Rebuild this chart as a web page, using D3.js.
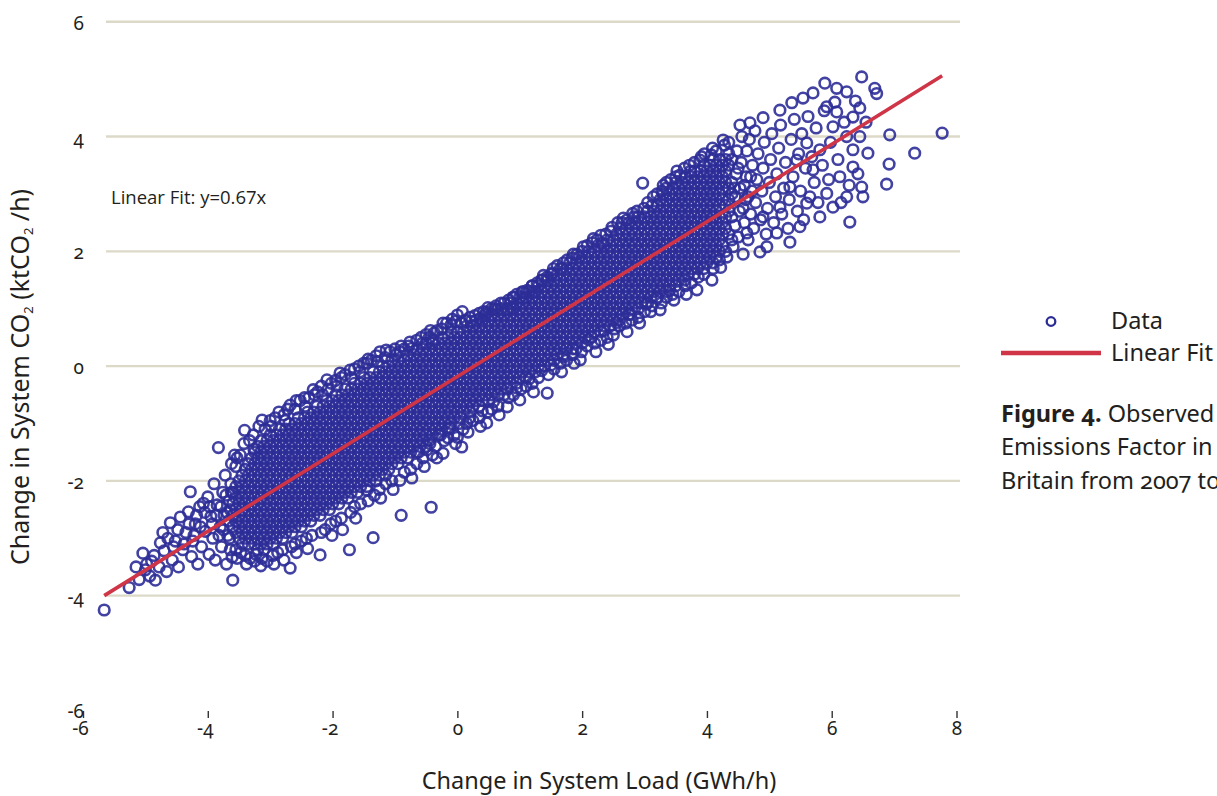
<!DOCTYPE html>
<html><head><meta charset="utf-8">
<script src="https://cdn.jsdelivr.net/npm/d3@7"></script>
<style>
html,body{margin:0;padding:0;background:#fff;overflow:hidden}
text{fill:#231f20}
</style>
</head><body>
<svg id="chart" width="1217" height="796"></svg>
<script>
// ---------- data ----------
const xTicks = [-6,-4,-2,0,2,4,6,8];
const yTicks = [-6,-4,-2,0,2,4,6];
const gridValues = [-4,-2,0,2,4,6];
const fitX = [-5.66, 7.77];
const fitY = [-4.0, 5.06];
const fitLabel = "Linear Fit: y=0.67x";
const seriesNames = ["Data", "Linear Fit"];

// dense core of the cloud: [load change, co2 change, co2 change, ...] per column
const coreColumns = [
[-3.60,-2.8,-2.6,-2.4,-2.2],
[-3.55,-2.9,-2.7,-2.5,-2.3,-2.1],
[-3.50,-3.0,-2.8,-2.6,-2.4,-2.2,-2.0],
[-3.45,-3.1,-2.9,-2.7,-2.5,-2.3,-2.1,-1.9],
[-3.40,-3.0,-2.8,-2.6,-2.4,-2.2,-2.0,-1.8],
[-3.35,-3.1,-2.9,-2.7,-2.5,-2.3,-2.1,-1.9,-1.7],
[-3.30,-3.0,-2.8,-2.6,-2.4,-2.2,-2.0,-1.8,-1.6],
[-3.25,-3.1,-2.9,-2.7,-2.5,-2.3,-2.1,-1.9,-1.7,-1.5],
[-3.20,-3.2,-3.0,-2.8,-2.6,-2.4,-2.2,-2.0,-1.8,-1.6,-1.4],
[-3.15,-3.1,-2.9,-2.7,-2.5,-2.3,-2.1,-1.9,-1.7,-1.5,-1.3],
[-3.10,-3.2,-3.0,-2.8,-2.6,-2.4,-2.2,-2.0,-1.8,-1.6,-1.4],
[-3.05,-3.1,-2.9,-2.7,-2.5,-2.3,-2.1,-1.9,-1.7,-1.5,-1.3],
[-3.00,-3.0,-2.8,-2.6,-2.4,-2.2,-2.0,-1.8,-1.6,-1.4,-1.2],
[-2.95,-3.1,-2.9,-2.7,-2.5,-2.3,-2.1,-1.9,-1.7,-1.5,-1.3],
[-2.90,-3.0,-2.8,-2.6,-2.4,-2.2,-2.0,-1.8,-1.6,-1.4,-1.2],
[-2.85,-2.9,-2.7,-2.5,-2.3,-2.1,-1.9,-1.7,-1.5,-1.3,-1.1],
[-2.80,-3.0,-2.8,-2.6,-2.4,-2.2,-2.0,-1.8,-1.6,-1.4,-1.2],
[-2.75,-2.9,-2.7,-2.5,-2.3,-2.1,-1.9,-1.7,-1.5,-1.3,-1.1],
[-2.70,-2.8,-2.6,-2.4,-2.2,-2.0,-1.8,-1.6,-1.4,-1.2,-1.0],
[-2.65,-2.9,-2.7,-2.5,-2.3,-2.1,-1.9,-1.7,-1.5,-1.3,-1.1],
[-2.60,-2.8,-2.6,-2.4,-2.2,-2.0,-1.8,-1.6,-1.4,-1.2,-1.0],
[-2.55,-2.7,-2.5,-2.3,-2.1,-1.9,-1.7,-1.5,-1.3,-1.1,-0.9],
[-2.50,-2.8,-2.6,-2.4,-2.2,-2.0,-1.8,-1.6,-1.4,-1.2,-1.0],
[-2.45,-2.7,-2.5,-2.3,-2.1,-1.9,-1.7,-1.5,-1.3,-1.1,-0.9],
[-2.40,-2.6,-2.4,-2.2,-2.0,-1.8,-1.6,-1.4,-1.2,-1.0,-0.8],
[-2.35,-2.7,-2.5,-2.3,-2.1,-1.9,-1.7,-1.5,-1.3,-1.1,-0.9],
[-2.30,-2.6,-2.4,-2.2,-2.0,-1.8,-1.6,-1.4,-1.2,-1.0,-0.8],
[-2.25,-2.5,-2.3,-2.1,-1.9,-1.7,-1.5,-1.3,-1.1,-0.9,-0.7],
[-2.20,-2.6,-2.4,-2.2,-2.0,-1.8,-1.6,-1.4,-1.2,-1.0,-0.8],
[-2.15,-2.5,-2.3,-2.1,-1.9,-1.7,-1.5,-1.3,-1.1,-0.9,-0.7],
[-2.10,-2.4,-2.2,-2.0,-1.8,-1.6,-1.4,-1.2,-1.0,-0.8,-0.6],
[-2.05,-2.5,-2.3,-2.1,-1.9,-1.7,-1.5,-1.3,-1.1,-0.9,-0.7],
[-2.00,-2.4,-2.2,-2.0,-1.8,-1.6,-1.4,-1.2,-1.0,-0.8,-0.6],
[-1.95,-2.3,-2.1,-1.9,-1.7,-1.5,-1.3,-1.1,-0.9,-0.7,-0.5],
[-1.90,-2.4,-2.2,-2.0,-1.8,-1.6,-1.4,-1.2,-1.0,-0.8,-0.6],
[-1.85,-2.3,-2.1,-1.9,-1.7,-1.5,-1.3,-1.1,-0.9,-0.7,-0.5],
[-1.80,-2.2,-2.0,-1.8,-1.6,-1.4,-1.2,-1.0,-0.8,-0.6,-0.4],
[-1.75,-2.3,-2.1,-1.9,-1.7,-1.5,-1.3,-1.1,-0.9,-0.7,-0.5],
[-1.70,-2.2,-2.0,-1.8,-1.6,-1.4,-1.2,-1.0,-0.8,-0.6,-0.4],
[-1.65,-2.1,-1.9,-1.7,-1.5,-1.3,-1.1,-0.9,-0.7,-0.5,-0.3],
[-1.60,-2.2,-2.0,-1.8,-1.6,-1.4,-1.2,-1.0,-0.8,-0.6,-0.4],
[-1.55,-2.1,-1.9,-1.7,-1.5,-1.3,-1.1,-0.9,-0.7,-0.5,-0.3],
[-1.50,-2.0,-1.8,-1.6,-1.4,-1.2,-1.0,-0.8,-0.6,-0.4,-0.2],
[-1.45,-2.1,-1.9,-1.7,-1.5,-1.3,-1.1,-0.9,-0.7,-0.5,-0.3],
[-1.40,-2.0,-1.8,-1.6,-1.4,-1.2,-1.0,-0.8,-0.6,-0.4,-0.2],
[-1.35,-1.9,-1.7,-1.5,-1.3,-1.1,-0.9,-0.7,-0.5,-0.3,-0.1],
[-1.30,-2.0,-1.8,-1.6,-1.4,-1.2,-1.0,-0.8,-0.6,-0.4,-0.2],
[-1.25,-1.9,-1.7,-1.5,-1.3,-1.1,-0.9,-0.7,-0.5,-0.3,-0.1],
[-1.20,-1.8,-1.6,-1.4,-1.2,-1.0,-0.8,-0.6,-0.4,-0.2,0.0],
[-1.15,-1.9,-1.7,-1.5,-1.3,-1.1,-0.9,-0.7,-0.5,-0.3,-0.1],
[-1.10,-1.8,-1.6,-1.4,-1.2,-1.0,-0.8,-0.6,-0.4,-0.2,0.0],
[-1.05,-1.7,-1.5,-1.3,-1.1,-0.9,-0.7,-0.5,-0.3,-0.1,0.1],
[-1.00,-1.6,-1.4,-1.2,-1.0,-0.8,-0.6,-0.4,-0.2,0.0],
[-0.95,-1.7,-1.5,-1.3,-1.1,-0.9,-0.7,-0.5,-0.3,-0.1,0.1],
[-0.90,-1.6,-1.4,-1.2,-1.0,-0.8,-0.6,-0.4,-0.2,0.0],
[-0.85,-1.5,-1.3,-1.1,-0.9,-0.7,-0.5,-0.3,-0.1,0.1],
[-0.80,-1.6,-1.4,-1.2,-1.0,-0.8,-0.6,-0.4,-0.2,0.0,0.2],
[-0.75,-1.5,-1.3,-1.1,-0.9,-0.7,-0.5,-0.3,-0.1,0.1],
[-0.70,-1.4,-1.2,-1.0,-0.8,-0.6,-0.4,-0.2,0.0,0.2],
[-0.65,-1.5,-1.3,-1.1,-0.9,-0.7,-0.5,-0.3,-0.1,0.1,0.3],
[-0.60,-1.4,-1.2,-1.0,-0.8,-0.6,-0.4,-0.2,0.0,0.2],
[-0.55,-1.3,-1.1,-0.9,-0.7,-0.5,-0.3,-0.1,0.1,0.3],
[-0.50,-1.4,-1.2,-1.0,-0.8,-0.6,-0.4,-0.2,0.0,0.2,0.4],
[-0.45,-1.3,-1.1,-0.9,-0.7,-0.5,-0.3,-0.1,0.1,0.3],
[-0.40,-1.2,-1.0,-0.8,-0.6,-0.4,-0.2,0.0,0.2,0.4],
[-0.35,-1.1,-0.9,-0.7,-0.5,-0.3,-0.1,0.1,0.3],
[-0.30,-1.2,-1.0,-0.8,-0.6,-0.4,-0.2,0.0,0.2,0.4],
[-0.25,-1.1,-0.9,-0.7,-0.5,-0.3,-0.1,0.1,0.3,0.5],
[-0.20,-1.0,-0.8,-0.6,-0.4,-0.2,0.0,0.2,0.4],
[-0.15,-1.1,-0.9,-0.7,-0.5,-0.3,-0.1,0.1,0.3,0.5],
[-0.10,-1.0,-0.8,-0.6,-0.4,-0.2,0.0,0.2,0.4,0.6],
[-0.05,-0.9,-0.7,-0.5,-0.3,-0.1,0.1,0.3,0.5],
[0.00,-0.8,-0.6,-0.4,-0.2,0.0,0.2,0.4,0.6],
[0.05,-0.9,-0.7,-0.5,-0.3,-0.1,0.1,0.3,0.5],
[0.10,-0.8,-0.6,-0.4,-0.2,0.0,0.2,0.4,0.6],
[0.15,-0.7,-0.5,-0.3,-0.1,0.1,0.3,0.5,0.7],
[0.20,-0.8,-0.6,-0.4,-0.2,0.0,0.2,0.4,0.6],
[0.25,-0.7,-0.5,-0.3,-0.1,0.1,0.3,0.5,0.7],
[0.30,-0.6,-0.4,-0.2,0.0,0.2,0.4,0.6,0.8],
[0.35,-0.7,-0.5,-0.3,-0.1,0.1,0.3,0.5,0.7],
[0.40,-0.6,-0.4,-0.2,0.0,0.2,0.4,0.6,0.8],
[0.45,-0.5,-0.3,-0.1,0.1,0.3,0.5,0.7,0.9],
[0.50,-0.6,-0.4,-0.2,0.0,0.2,0.4,0.6,0.8],
[0.55,-0.5,-0.3,-0.1,0.1,0.3,0.5,0.7,0.9],
[0.60,-0.4,-0.2,0.0,0.2,0.4,0.6,0.8,1.0],
[0.65,-0.5,-0.3,-0.1,0.1,0.3,0.5,0.7,0.9],
[0.70,-0.4,-0.2,0.0,0.2,0.4,0.6,0.8,1.0],
[0.75,-0.3,-0.1,0.1,0.3,0.5,0.7,0.9,1.1],
[0.80,-0.4,-0.2,0.0,0.2,0.4,0.6,0.8,1.0],
[0.85,-0.3,-0.1,0.1,0.3,0.5,0.7,0.9,1.1],
[0.90,-0.2,0.0,0.2,0.4,0.6,0.8,1.0,1.2],
[0.95,-0.3,-0.1,0.1,0.3,0.5,0.7,0.9,1.1],
[1.00,-0.2,0.0,0.2,0.4,0.6,0.8,1.0,1.2],
[1.05,-0.1,0.1,0.3,0.5,0.7,0.9,1.1,1.3],
[1.10,-0.2,0.0,0.2,0.4,0.6,0.8,1.0,1.2],
[1.15,-0.1,0.1,0.3,0.5,0.7,0.9,1.1,1.3],
[1.20,0.0,0.2,0.4,0.6,0.8,1.0,1.2,1.4],
[1.25,-0.1,0.1,0.3,0.5,0.7,0.9,1.1,1.3],
[1.30,0.0,0.2,0.4,0.6,0.8,1.0,1.2,1.4],
[1.35,0.1,0.3,0.5,0.7,0.9,1.1,1.3,1.5],
[1.40,0.0,0.2,0.4,0.6,0.8,1.0,1.2,1.4],
[1.45,0.1,0.3,0.5,0.7,0.9,1.1,1.3,1.5],
[1.50,0.2,0.4,0.6,0.8,1.0,1.2,1.4,1.6],
[1.55,0.1,0.3,0.5,0.7,0.9,1.1,1.3,1.5],
[1.60,0.2,0.4,0.6,0.8,1.0,1.2,1.4,1.6],
[1.65,0.3,0.5,0.7,0.9,1.1,1.3,1.5,1.7],
[1.70,0.2,0.4,0.6,0.8,1.0,1.2,1.4,1.6],
[1.75,0.3,0.5,0.7,0.9,1.1,1.3,1.5,1.7],
[1.80,0.4,0.6,0.8,1.0,1.2,1.4,1.6,1.8],
[1.85,0.3,0.5,0.7,0.9,1.1,1.3,1.5,1.7],
[1.90,0.4,0.6,0.8,1.0,1.2,1.4,1.6,1.8],
[1.95,0.5,0.7,0.9,1.1,1.3,1.5,1.7,1.9],
[2.00,0.4,0.6,0.8,1.0,1.2,1.4,1.6,1.8],
[2.05,0.5,0.7,0.9,1.1,1.3,1.5,1.7,1.9],
[2.10,0.6,0.8,1.0,1.2,1.4,1.6,1.8,2.0],
[2.15,0.5,0.7,0.9,1.1,1.3,1.5,1.7,1.9],
[2.20,0.6,0.8,1.0,1.2,1.4,1.6,1.8,2.0],
[2.25,0.7,0.9,1.1,1.3,1.5,1.7,1.9,2.1],
[2.30,0.6,0.8,1.0,1.2,1.4,1.6,1.8,2.0],
[2.35,0.7,0.9,1.1,1.3,1.5,1.7,1.9,2.1],
[2.40,0.8,1.0,1.2,1.4,1.6,1.8,2.0,2.2],
[2.45,0.7,0.9,1.1,1.3,1.5,1.7,1.9,2.1],
[2.50,0.8,1.0,1.2,1.4,1.6,1.8,2.0,2.2],
[2.55,0.9,1.1,1.3,1.5,1.7,1.9,2.1,2.3],
[2.60,0.8,1.0,1.2,1.4,1.6,1.8,2.0,2.2,2.4],
[2.65,0.9,1.1,1.3,1.5,1.7,1.9,2.1,2.3],
[2.70,1.0,1.2,1.4,1.6,1.8,2.0,2.2,2.4],
[2.75,0.9,1.1,1.3,1.5,1.7,1.9,2.1,2.3,2.5],
[2.80,1.0,1.2,1.4,1.6,1.8,2.0,2.2,2.4],
[2.85,1.1,1.3,1.5,1.7,1.9,2.1,2.3,2.5],
[2.90,1.0,1.2,1.4,1.6,1.8,2.0,2.2,2.4,2.6],
[2.95,1.1,1.3,1.5,1.7,1.9,2.1,2.3,2.5],
[3.00,1.2,1.4,1.6,1.8,2.0,2.2,2.4,2.6],
[3.05,1.1,1.3,1.5,1.7,1.9,2.1,2.3,2.5,2.7],
[3.10,1.2,1.4,1.6,1.8,2.0,2.2,2.4,2.6],
[3.15,1.3,1.5,1.7,1.9,2.1,2.3,2.5,2.7],
[3.20,1.2,1.4,1.6,1.8,2.0,2.2,2.4,2.6,2.8],
[3.25,1.3,1.5,1.7,1.9,2.1,2.3,2.5,2.7,2.9],
[3.30,1.4,1.6,1.8,2.0,2.2,2.4,2.6,2.8,3.0],
[3.35,1.3,1.5,1.7,1.9,2.1,2.3,2.5,2.7,2.9,3.1],
[3.40,1.4,1.6,1.8,2.0,2.2,2.4,2.6,2.8,3.0],
[3.45,1.5,1.7,1.9,2.1,2.3,2.5,2.7,2.9,3.1],
[3.50,1.4,1.6,1.8,2.0,2.2,2.4,2.6,2.8,3.0,3.2],
[3.55,1.5,1.7,1.9,2.1,2.3,2.5,2.7,2.9,3.1],
[3.60,1.6,1.8,2.0,2.2,2.4,2.6,2.8,3.0,3.2],
[3.65,1.5,1.7,1.9,2.1,2.3,2.5,2.7,2.9,3.1,3.3],
[3.70,1.6,1.8,2.0,2.2,2.4,2.6,2.8,3.0,3.2],
[3.75,1.7,1.9,2.1,2.3,2.5,2.7,2.9,3.1,3.3],
[3.80,1.6,1.8,2.0,2.2,2.4,2.6,2.8,3.0,3.2,3.4],
[3.85,1.7,1.9,2.1,2.3,2.5,2.7,2.9,3.1,3.3],
[3.90,1.8,2.0,2.2,2.4,2.6,2.8,3.0,3.2,3.4],
[3.95,1.7,1.9,2.1,2.3,2.5,2.7,2.9,3.1,3.3,3.5],
[4.00,1.8,2.0,2.2,2.4,2.6,2.8,3.0,3.2,3.4],
[4.05,1.9,2.1,2.3,2.5,2.7,2.9,3.1,3.3,3.5],
[4.10,1.8,2.0,2.2,2.4,2.6,2.8,3.0,3.2,3.4,3.6],
[4.15,1.9,2.1,2.3,2.5,2.7,2.9,3.1,3.3,3.5],
[4.20,2.0,2.2,2.4,2.6,2.8,3.0,3.2,3.4,3.6],
[4.25,2.1,2.3,2.5,2.9,3.1,3.3,3.5],
[4.30,2.0,2.4,2.6,2.8,3.2,3.4,3.6],
[4.35,2.3,2.7,2.9,3.1,3.5,3.7],
[4.40,2.2,2.6,3.0,3.2,3.6]
];

// sparse lower-left tail
const tailLeft = [
[-5.66,-4.25],[-5.26,-3.86],[-5.1,-3.72],[-5.04,-3.26],[-4.98,-3.45],[-4.93,-3.66],[-4.86,-3.3],[-4.84,-3.73],[-4.78,-3.5],[-4.76,-3.08],
[-4.7,-3.22],[-4.66,-3.58],[-4.6,-2.73],[-4.57,-3.38],[-4.52,-3.05],[-4.47,-3.5],[-4.44,-2.63],[-4.4,-3.2],[-4.35,-2.9],[-4.31,-2.54],
[-4.28,-2.19],[-4.26,-3.32],[-4.24,-3.05],[-4.2,-2.75],[-4.16,-3.45],[-4.13,-2.45],[-4.1,-3.15],[-4.07,-2.39],[-4.04,-2.88],[-4.0,-2.28],
[-3.98,-3.28],[-3.95,-2.62],[-3.92,-3.0],[-3.9,-2.05],[-3.88,-3.38],[-3.85,-2.42],[-3.83,-1.42],[-3.8,-2.8],[-3.78,-3.15],[-3.76,-2.2],
[-3.74,-2.6],[-3.72,-1.9],[-3.7,-3.45],[-3.68,-2.95],[-3.66,-2.35],[-3.64,-3.2],[-3.62,-1.7],[-3.61,-3.33],[-3.6,-3.73],[-3.63,-2.05],
[-3.67,-2.7],[-3.57,-1.55],[-4.05,-2.55],[-3.97,-2.45],[-3.93,-2.75],[-3.86,-2.6],[-3.82,-2.95],[-3.79,-2.45],[-3.75,-2.85],[-3.71,-2.25],
[-3.69,-2.55],[-3.65,-3.0],[-3.64,-2.5],[-3.62,-2.2],[-4.12,-2.8],[-4.18,-2.6],[-4.22,-2.95],[-4.3,-2.75],[-4.38,-3.1],[-4.48,-2.85],
[-4.55,-3.15],[-4.64,-3.0],[-4.72,-2.9],[-4.9,-3.4],[-5.0,-3.55],[-5.15,-3.5]
];

// scattered points above the dense band
const edgeUpper = [
[-3.55,-1.75],[-3.53,-1.6],[-3.48,-1.55],[-3.42,-1.35],[-3.41,-1.12],[-3.33,-1.3],[-3.27,-1.2],[-3.26,-1.45],[-3.18,-1.05],[-3.13,-0.94],
[-3.08,-1.1],[-3.0,-0.95],[-2.98,-1.05],[-2.92,-0.9],[-2.86,-0.8],[-2.78,-0.85],[-2.76,-0.95],[-2.72,-0.75],[-2.68,-0.68],[-2.6,-0.75],
[-2.58,-0.6],[-2.52,-0.6],[-2.45,-0.55],[-2.44,-0.7],[-2.38,-0.55],[-2.31,-0.41],[-2.29,-0.5],[-2.24,-0.45],[-2.18,-0.35],[-2.16,-0.5],
[-2.09,-0.24],[-2.07,-0.4],[-2.02,-0.3],[-1.95,-0.25],[-1.93,-0.35],[-1.88,-0.12],[-1.86,-0.2],[-1.8,-0.15],[-1.72,-0.07],[-1.7,-0.2],
[-1.65,-0.05],[-1.58,0.0],[-1.56,-0.1],[-1.5,0.05],[-1.45,0.05],[-1.43,0.12],[-1.38,0.1],[-1.3,0.18],[-1.28,0.08],[-1.24,0.25],
[-1.16,0.15],[-1.14,0.28],[-1.08,0.25],[-1.0,0.3],[-0.98,0.2],[-0.92,0.25],[-0.9,0.35],[-0.85,0.3],[-0.78,0.35],[-0.76,0.42],
[-0.73,0.31],[-0.65,0.45],[-0.58,0.5],[-0.56,0.4],[-0.5,0.55],[-0.45,0.5],[-0.43,0.62],[-0.39,0.45],[-0.37,0.58],[-0.32,0.62],
[-0.25,0.65],[-0.23,0.75],[-0.17,0.75],[-0.1,0.72],[-0.08,0.82],[-0.03,0.78],[0.0,0.89],[0.06,0.75],[0.08,0.95],[0.13,0.8],
[0.2,0.85],[0.22,0.78],[0.28,0.88],[0.35,0.92],[0.37,0.83],[0.42,0.95],[0.47,0.94],[0.49,1.02],[0.55,1.0],[0.62,1.05],
[0.64,0.98],[0.7,1.1],[0.8,0.98],[0.82,1.15],[0.87,1.01],[0.89,1.2],[0.95,1.25],[1.03,1.28],[1.05,1.18],[1.12,1.32],
[1.2,1.4],[1.22,1.3],[1.28,1.45],[1.36,1.5],[1.38,1.58],[1.44,1.55],[1.52,1.62],[1.54,1.7],[1.6,1.75],[1.68,1.7],
[1.7,1.8],[1.76,1.85],[1.84,1.88],[1.86,1.95],[1.92,1.95],[2.0,2.0],[2.02,2.08],[2.08,2.1],[2.16,2.15],[2.18,2.22],
[2.24,2.2],[2.3,2.28],[2.32,2.14],[2.38,2.3],[2.46,2.35],[2.48,2.42],[2.57,2.5],[2.64,2.5],[2.66,2.58],[2.72,2.55],
[2.81,2.66],[2.83,2.6],[2.88,2.7],[2.97,3.19],[2.99,2.75],[3.05,2.85],[3.12,2.8],[3.14,2.95],[3.2,3.0],[3.28,3.05],
[3.3,3.15],[3.35,3.2],[3.42,3.25],[3.5,3.3],[3.52,3.4],[3.57,3.33],[3.64,3.45],[3.72,3.5],[3.74,3.4],[3.8,3.55],
[3.89,3.59],[3.91,3.65],[3.96,3.7],[4.07,3.68],[4.09,3.8],[4.15,3.75],[4.26,3.94],[4.28,3.85],[4.35,3.9]
];

// scattered points below the dense band
const edgeLower = [
[-3.55,-3.2],[-3.53,-3.35],[-3.47,-3.25],[-3.4,-3.3],[-3.38,-3.45],[-3.32,-3.35],[-3.25,-3.4],[-3.23,-3.28],[-3.15,-3.48],[-3.13,-3.35],
[-3.05,-3.4],[-2.96,-3.3],[-2.94,-3.45],[-2.88,-3.25],[-2.8,-3.2],[-2.78,-3.38],[-2.68,-3.52],[-2.66,-3.15],[-2.6,-3.1],[-2.58,-3.25],
[-2.5,-3.05],[-2.42,-3.0],[-2.4,-3.18],[-2.33,-2.95],[-2.2,-3.29],[-2.18,-2.9],[-2.12,-2.85],[-2.03,-2.75],[-2.01,-2.95],[-1.95,-2.7],
[-1.86,-2.65],[-1.84,-2.85],[-1.73,-3.2],[-1.71,-2.55],[-1.65,-2.45],[-1.63,-2.65],[-1.55,-2.4],[-1.45,-2.16],[-1.43,-2.35],[-1.35,-2.99],
[-1.33,-2.25],[-1.25,-2.15],[-1.23,-2.3],[-1.15,-2.05],[-1.05,-2.0],[-1.03,-2.15],[-0.92,-1.99],[-0.9,-2.6],[-0.85,-1.85],[-0.75,-1.8],
[-0.73,-1.95],[-0.65,-1.7],[-0.55,-1.6],[-0.53,-1.75],[-0.49,-1.46],[-0.42,-2.46],[-0.4,-1.55],[-0.35,-1.4],[-0.33,-1.6],[-0.23,-1.52],
[-0.21,-1.3],[-0.15,-1.25],[-0.05,-1.2],[-0.03,-1.35],[0.0,-1.24],[0.07,-1.41],[0.09,-1.1],[0.15,-1.0],[0.17,-1.15],[0.25,-0.95],
[0.35,-0.9],[0.37,-1.05],[0.47,-0.99],[0.49,-0.8],[0.55,-0.75],[0.65,-0.7],[0.67,-0.85],[0.8,-0.71],[0.82,-0.55],[0.9,-0.5],
[1.0,-0.59],[1.02,-0.4],[1.1,-0.35],[1.2,-0.3],[1.22,-0.45],[1.3,-0.2],[1.44,-0.47],[1.46,-0.15],[1.55,-0.05],[1.65,0.05],
[1.67,-0.1],[1.75,0.1],[1.85,0.2],[1.87,0.05],[1.97,0.11],[1.99,0.25],[2.08,0.35],[2.2,0.4],[2.22,0.25],[2.3,0.45],
[2.4,0.5],[2.42,0.38],[2.5,0.54],[2.52,0.65],[2.6,0.7],[2.7,0.75],[2.72,0.6],[2.8,0.8],[2.9,0.85],[2.92,0.75],
[3.0,0.95],[3.1,0.95],[3.12,1.05],[3.25,0.98],[3.27,1.1],[3.35,1.2],[3.45,1.25],[3.47,1.15],[3.55,1.3],[3.65,1.4],
[3.67,1.25],[3.75,1.45],[3.84,1.33],[3.86,1.55],[3.95,1.6],[4.08,1.5],[4.1,1.7],[4.2,1.85],[4.22,1.72],[4.32,1.9],
[-0.62,-1.5],[-0.44,-1.35],[-0.27,-1.2],[-0.12,-1.08],[0.03,-1.0],[0.2,-0.9],[0.4,-0.78],[0.58,-0.62],[0.75,-0.5],[0.95,-0.38],
[1.15,-0.22],[1.35,-0.08],[1.5,0.02],[1.7,0.16],[1.9,0.3],[2.1,0.46],[2.35,0.62],[2.55,0.76],[2.78,0.9],[3.02,1.08],
[3.2,1.18],[3.4,1.32]
];

// sparse upper-right tail
const tailRight = [
[4.69,4.24],[4.9,4.33],[5.17,4.46],[5.36,4.59],[5.54,4.67],[5.7,4.76],[5.89,4.93],[6.08,4.84],[6.24,4.78],[6.48,5.04],
[6.69,4.84],[6.72,4.75],[6.45,4.5],[6.34,4.34],[5.92,4.52],[6.08,4.43],[6.02,4.17],[6.24,4.0],[6.45,4.0],[6.58,3.71],
[6.34,3.77],[6.93,4.03],[7.77,4.06],[7.33,3.71],[6.92,3.52],[6.88,3.17],[6.48,3.12],[6.5,2.95],[6.29,2.51],[6.34,3.47],
[6.13,3.3],[6.24,2.95],[6.02,2.77],[5.81,2.6],[5.92,3.01],[5.6,2.84],[5.49,2.43],[5.33,2.16],[4.96,2.08],[5.12,2.32],
[5.7,3.42],[5.81,3.77],[5.6,3.89],[5.44,3.59],[5.33,3.12],[5.17,2.77],[4.9,2.6],[4.64,2.32],[4.42,2.08],[4.85,1.99],
[4.45,2.45],[4.45,2.95],[4.47,3.35],[4.48,3.75],[4.5,2.25],[4.52,2.7],[4.53,3.1],[4.53,4.2],[4.55,3.55],[4.56,4.0],
[4.58,1.95],[4.6,2.5],[4.62,2.9],[4.63,3.3],[4.64,3.75],[4.66,2.2],[4.68,3.95],[4.7,2.65],[4.72,3.05],[4.73,3.5],
[4.75,2.4],[4.77,4.1],[4.78,2.85],[4.8,3.25],[4.82,3.7],[4.86,2.55],[4.88,3.05],[4.9,3.45],[4.92,3.9],[4.95,2.3],
[4.97,2.75],[5.0,3.2],[5.02,3.6],[5.04,4.05],[5.07,2.5],[5.1,2.95],[5.12,3.35],[5.15,3.8],[5.18,4.2],[5.2,2.65],
[5.23,3.1],[5.26,3.55],[5.3,2.4],[5.32,2.9],[5.35,3.95],[5.38,3.3],[5.4,4.3],[5.45,2.7],[5.47,3.7],[5.5,3.05],
[5.52,4.05],[5.55,2.55],[5.58,3.45],[5.62,4.35],[5.65,2.95],[5.68,3.65],[5.72,3.2],[5.75,4.15],[5.78,2.85],[5.85,3.5],
[5.88,4.45],[5.95,3.25],[5.98,3.9],[6.05,4.6],[6.1,3.6],[6.15,2.85],[6.2,4.25],[6.28,3.15],[6.38,4.62],[6.42,3.35],
[6.55,4.25],[4.44,3.1],[4.5,3.45],[4.58,2.75],[4.6,3.15],[4.66,2.95],[4.7,3.3]
];

// ---------- drawing ----------
const svg = d3.select('#chart');
const FONT = '"Noto Sans", "Open Sans", sans-serif';
const x = d3.scaleLinear().domain([-6, 8]).range([83, 956.5]);
const y = d3.scaleLinear().domain([-6, 6]).range([710.4, 21.8]);

// gridlines
svg.append('g').selectAll('line').data(gridValues).join('line')
  .attr('x1', 106).attr('x2', 960)
  .attr('y1', d => y(d)).attr('y2', d => y(d))
  .attr('stroke', '#dcd9c8').attr('stroke-width', 2.4);

// scatter points
const points = coreColumns.flatMap(([cx, ...ys]) => ys.map(v => [cx, v]))
  .concat(tailLeft, edgeUpper, edgeLower, tailRight);
svg.append('g').selectAll('circle').data(points).join('circle')
  .attr('cx', d => x(d[0])).attr('cy', d => y(d[1]))
  .attr('r', 5.3).attr('fill', 'none')
  .attr('stroke', '#2d2d98').attr('stroke-opacity', 0.9).attr('stroke-width', 2.6);

// fit line
svg.append('path')
  .datum(fitX.map((v, i) => [v, fitY[i]]))
  .attr('d', d3.line().x(d => x(d[0])).y(d => y(d[1])))
  .attr('stroke', '#cf3546').attr('stroke-width', 3.6).attr('fill', 'none');

// x axis
const xAxis = svg.append('g').attr('transform', 'translate(0,711)')
  .call(d3.axisBottom(x).tickValues(xTicks).tickSize(7).tickFormat(d => String(d)));
xAxis.select('.domain').remove();
xAxis.selectAll('line').attr('stroke', '#333').attr('stroke-width', 1.4);
xAxis.selectAll('text').attr('y', 24).attr('dy', null)
  .attr('dx', d => d < 0 ? -3 : 0)
  .style('font-family', FONT).style('font-size', '19px')
  .style('font-variant-numeric', 'oldstyle-nums').attr('fill', '#231f20');

// y axis
const yAxis = svg.append('g').attr('transform', 'translate(84,0)')
  .call(d3.axisLeft(y).tickValues(yTicks).tickSize(0).tickPadding(0).tickFormat(d => String(d)));
yAxis.select('.domain').remove();
yAxis.selectAll('text').attr('dy', 7.5)
  .style('font-family', FONT).style('font-size', '19px')
  .style('font-variant-numeric', 'oldstyle-nums').attr('fill', '#231f20');

// axis titles
svg.append('text').attr('x', 599).attr('y', 789).attr('text-anchor', 'middle')
  .style('font-family', FONT).style('font-size', '23.5px')
  .text('Change in System Load (GWh/h)');

const yt = svg.append('text').attr('transform', 'translate(29,377) rotate(-90)')
  .attr('text-anchor', 'middle').style('font-family', FONT).style('font-size', '25px');
yt.append('tspan').text('Change in System CO');
yt.append('tspan').text('2').style('font-size', '13px').attr('baseline-shift', '-30%');
yt.append('tspan').text('  (ktCO');
yt.append('tspan').text('2').style('font-size', '13px').attr('baseline-shift', '-30%');
yt.append('tspan').text(' /h)');

// fit label
svg.append('text').attr('x', 111).attr('y', 204)
  .style('font-family', '"Open Sans", sans-serif').style('font-size', '18.5px')
  .text(fitLabel);

// legend
const lg = svg.append('g');
lg.append('circle').attr('cx', 1051).attr('cy', 321.5).attr('r', 4.3)
  .attr('fill', 'none').attr('stroke', '#2c2c97').attr('stroke-width', 2.3);
lg.append('line').attr('x1', 1001).attr('x2', 1101).attr('y1', 353).attr('y2', 353)
  .attr('stroke', '#cf3546').attr('stroke-width', 4.5);
lg.selectAll('text').data(seriesNames).join('text')
  .attr('x', 1111).attr('y', (d, i) => 329 + i * 32)
  .style('font-family', FONT).style('font-size', '23.5px').text(d => d);

// caption
const cap = svg.append('g').style('font-family', FONT).style('font-size', '23.5px')
  .style('font-variant-numeric', 'oldstyle-nums');
const c1 = cap.append('text').attr('x', 1001).attr('y', 421.5);
c1.append('tspan').style('font-weight', 'bold').text('Figure 4.');
c1.append('tspan').text(' Observed');
cap.append('text').attr('x', 1001).attr('y', 455).text('Emissions Factor in');
cap.append('text').attr('x', 1001).attr('y', 488.5).text('Britain from 2007 to');
</script>
</body></html>
